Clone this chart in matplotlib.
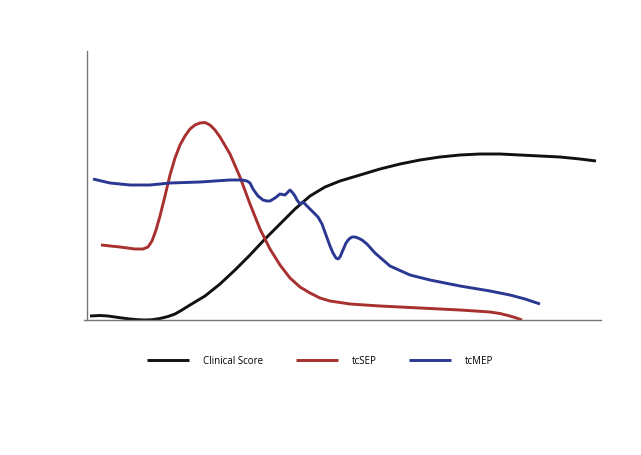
import matplotlib
matplotlib.use("Agg")
import matplotlib.pyplot as plt
import numpy as np

# values (x: time, y: signal height above baseline)
clinical_x = [90, 100, 108, 115, 122, 130, 138, 145, 152, 160, 168, 175, 182, 190, 205, 220, 235, 250,
              265, 280, 295, 310, 325, 340, 360, 380, 400, 420, 440, 460, 480, 500, 520, 540,
              560, 580, 596]
clinical_y = [4, 4.5, 4, 3, 2, 1, 0.3, 0, 0.3, 1.5, 3.5, 6, 10, 15, 24, 36, 50, 65,
              81, 96, 111, 124, 133, 139, 145, 151, 156, 160, 163, 165, 166, 166, 165, 164,
              163, 161, 159]

sep_x = [101, 120, 135, 143, 148, 152, 156, 160, 165, 170, 175, 180, 185, 190, 195, 200, 205,
         210, 215, 220, 230, 240, 250, 260, 270, 280, 290, 300, 310, 320, 330, 350, 380,
         420, 460, 490, 500, 508, 515, 522]
sep_y = [75, 73, 71, 71, 73, 79, 90, 104, 124, 145, 162, 175, 184, 191, 195, 197, 197.5,
         195, 190, 183, 166, 143, 116, 91, 71, 55, 42, 33, 27, 22, 19, 16, 14,
         12, 10, 8, 6.5, 4.5, 2.5, 0]

mep_x = [93, 110, 130, 150, 170, 200, 230, 242, 247, 250, 253, 258, 263, 267, 270, 275, 280, 285,
         288, 290, 292, 295, 297, 300, 303, 306, 310, 314, 318, 322, 326, 330, 333, 336, 338,
         340, 343, 346, 349, 352, 355, 358, 362, 367, 375, 390, 410, 430, 460, 490, 510, 525, 540]
mep_y = [141, 137, 135, 135, 137, 138, 140, 140, 139, 137, 131, 124, 120, 119, 119, 122, 126, 125,
         128, 130, 128, 124, 120, 116, 118, 115, 111, 107, 103, 96, 85, 74, 67, 62, 61,
         63, 70, 77, 81, 83, 83, 82, 80, 76, 67, 54, 45, 40, 34, 29, 25, 21, 16]

fig = plt.figure(figsize=(6.41, 4.56), dpi=100)
ax = fig.add_axes([84 / 641, 1 - 321 / 456, 517 / 641, 269 / 456])

lw = 2.1
ax.plot(clinical_x, clinical_y, color="#111111", lw=lw, label="Clinical Score", solid_capstyle="butt")
ax.plot(sep_x, sep_y, color="#a8302e", lw=lw, label="tcSEP", solid_capstyle="butt")
ax.plot(mep_x, mep_y, color="#2b3892", lw=lw, label="tcMEP", solid_capstyle="butt")

ax.set_xlim(84, 601)
ax.set_ylim(0, 269)
ax.set_xticks([])
ax.set_yticks([])
for s in ["top", "right"]:
    ax.spines[s].set_visible(False)
for s in ["left", "bottom"]:
    ax.spines[s].set_color("#777777")
    ax.spines[s].set_linewidth(1.0)
ax.spines["left"].set_position(("data", 87))

leg = ax.legend(loc="center", bbox_to_anchor=(0.457, -0.152), ncol=3, frameon=False,
                prop={"family": "Open Sans", "size": 7}, handlelength=4.3,
                handletextpad=1.4, columnspacing=3.4)

fig.savefig("out.png", dpi=100)
